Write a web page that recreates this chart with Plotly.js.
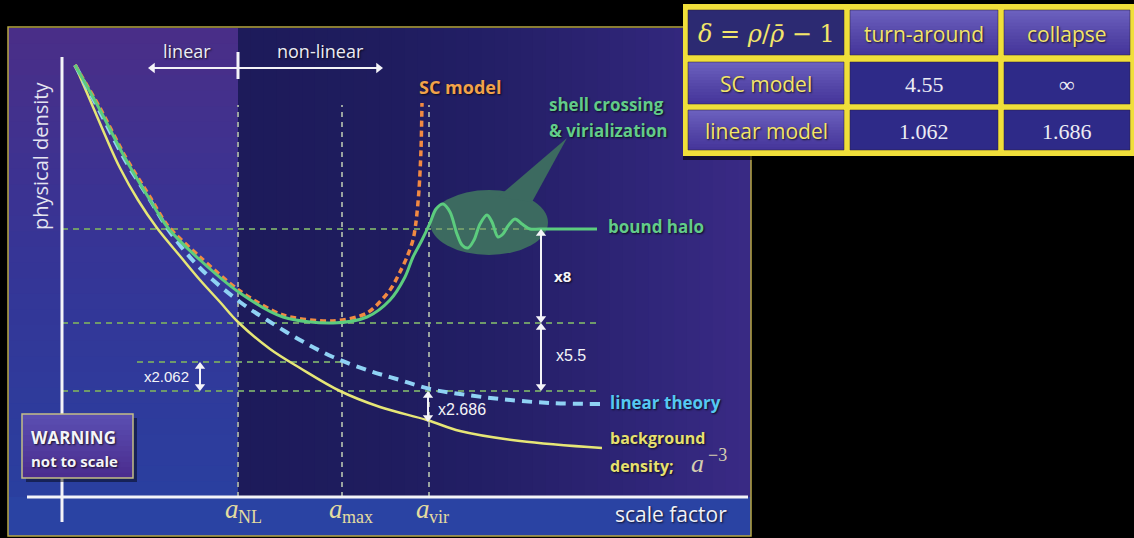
<!DOCTYPE html>
<html>
<head>
<meta charset="utf-8">
<script src="https://cdn.plot.ly/plotly-3.0.1.min.js"></script>
<style>
  html, body { margin: 0; padding: 0; background: #000; }
  #chart { width: 1134px; height: 538px; }
</style>
</head>
<body>
<div id="chart"></div>
<script>
// ---- Density histories (arbitrary units: x = scale factor, y = physical density) ----
// background density, a^-3
const bgX = [13, 28, 43, 58, 76, 95, 118, 138, 158, 176, 208, 238, 278, 318, 365, 398, 458, 540];
const bgY = [432, 397, 362, 329, 297, 269, 241, 217, 195, 175, 148, 129, 106, 90, 77, 66, 56, 49];

// linear theory
const linX = [13, 38, 63, 88, 108, 138, 178, 205, 238, 271, 308, 338, 368, 398, 438, 488, 538];
const linY = [432, 385, 337, 297, 265, 229, 195, 177, 157, 140, 126, 117, 108, 103, 98, 94, 93];

// spherical-collapse model (diverges at collapse)
const scX = [13, 38, 63, 88, 106, 138, 178, 221, 271, 305, 328, 338, 345, 351, 354, 357, 359, 360];
const scY = [432, 389, 341, 300, 271, 240, 206, 182, 176, 184, 207, 225, 240, 257, 275, 307, 347, 394];

// non-linear evolution: shell crossing, virialization, bound halo
const nlX = [13, 38, 63, 88, 106, 138, 178, 221, 271, 305, 328, 343, 351, 360, 368, 374, 381, 388, 395, 400,
             406, 412, 418, 425, 430, 436, 441, 446, 453, 460, 468, 478, 535];
const nlY = [432, 387, 339, 297, 269, 237, 204, 180, 174, 180, 197, 220, 240, 257, 274, 288, 293, 285, 263, 252,
             249, 257, 273, 282, 275, 260, 263, 271, 278, 273, 268, 268, 268];

// characteristic scale factors a_NL, a_max, a_vir
const epochSubs = ['NL', 'max', 'vir'];
const epochX = [176, 280, 367];

// density reference levels
const haloLevel = 268;      // virialized halo
const minLevel = 174;       // density at turn-around
const linAtMax = 135;       // linear theory at a_max
const linAtVir = 106;       // linear theory at a_vir
const bgAtVir = 75;         // background at a_vir

// density-contrast ratios
const ratioLabels = ['x8', 'x5.5', 'x2.062', 'x2.686'];

// overdensity table
const headerLabels = ['<i>δ</i> = <i>ρ</i>/<i>ρ̄</i> − 1', 'turn-around', 'collapse'];
const modelNames = ['SC model', 'linear model'];
const deltaTurnaround = ['4.55', '1.062'];
const deltaCollapse = ['∞', '1.686'];

// ---- layout helpers: canvas pixel position -> axis units ----
const X = px => px - 62;
const Y = py => 497 - py;

const HAND = '"Open Sans", Lato, sans-serif';
const SERIF = '"Liberation Serif", "DejaVu Serif", serif';
const MATH = '"DejaVu Serif", "Liberation Serif", serif';
const SANS = '"Liberation Sans", Arial, sans-serif';
const SHADOW = '1px 1px 2px rgba(0,0,0,0.75)';

function hex2rgb(h) { return [1, 3, 5].map(i => parseInt(h.substr(i, 2), 16)); }
function mix(stops, t) {
  for (let i = 0; i < stops.length - 1; i++) {
    const [t0, c0] = stops[i], [t1, c1] = stops[i + 1];
    if (t <= t1 || i === stops.length - 2) {
      const u = Math.max(0, Math.min(1, (t - t0) / (t1 - t0)));
      const a = hex2rgb(c0), b = hex2rgb(c1);
      return 'rgb(' + a.map((v, k) => Math.round(v + (b[k] - v) * u)).join(',') + ')';
    }
  }
}
function rect(x0, y0, x1, y1, fill, extra) {
  return Object.assign({
    type: 'rect', xref: 'x', yref: 'y', layer: 'below',
    x0: X(x0), x1: X(x1), y0: Y(y0), y1: Y(y1),
    fillcolor: fill, line: { width: 0 }
  }, extra || {});
}
function vgrad(x0, y0, x1, y1, stops, n) {
  for (let i = 0; i < n; i++) {
    const a = y0 + (y1 - y0) * i / n, b = y0 + (y1 - y0) * (i + 1) / n + (i < n - 1 ? 0.8 : 0);
    shapes.push(rect(x0, a, x1, b, mix(stops, (i + 0.5) / n)));
  }
}
function seg(x0, y0, x1, y1, color, width, dash) {
  return {
    type: 'line', xref: 'x', yref: 'y', layer: 'below',
    x0: x0, x1: x1, y0: y0, y1: y1,
    line: { color: color, width: width, dash: dash || 'solid' }
  };
}

const shapes = [];

// panel backgrounds
vgrad(8, 28, 238, 497, [[0, '#4a2e88'], [0.5, '#353596'], [1, '#2a3f9f']], 30);
const rightStops = [[0, '#1d1b5a'], [0.3, '#1f1c5e'], [0.5, '#231f66'], [0.7, '#2b2372'], [0.85, '#32277c'], [1, '#3a2a85']];
const NR = 40;
for (let i = 0; i < NR; i++) {
  const a = 238 + (751 - 238) * i / NR, b = 238 + (751 - 238) * (i + 1) / NR + 1;
  shapes.push(rect(a, 28, Math.min(b, 751), 497, mix(rightStops, (i + 0.5) / NR)));
}
shapes.push(rect(8, 497, 751, 536, '#2a43a3'));
shapes.push(rect(8, 27, 751, 536, 'rgba(0,0,0,0)', { line: { color: '#b8a844', width: 1.5 } }));

// speech bubble around the oscillations
shapes.push({
  type: 'circle', xref: 'x', yref: 'y', layer: 'below',
  x0: X(430), x1: X(548), y0: Y(190), y1: Y(255),
  fillcolor: '#3c6a60', line: { width: 0 }
});
shapes.push({
  type: 'path', xref: 'x', yref: 'y', layer: 'below',
  path: `M ${X(498)},${Y(197)} L ${X(567)},${Y(138)} L ${X(532)},${Y(202)} Z`,
  fillcolor: '#3c6a60', line: { width: 0 }
});

// reference levels (horizontal) and epochs (vertical)
const HCOL = '#6f9a6a', VCOL = '#9aa3a0', DASH = '6px,5px';
shapes.push(seg(0, haloLevel, X(540), haloLevel, HCOL, 2, DASH));
shapes.push(seg(0, minLevel, X(596), minLevel, HCOL, 2, DASH));
shapes.push(seg(X(137), linAtMax, epochX[1], linAtMax, HCOL, 2, DASH));
shapes.push(seg(0, linAtVir, X(600), linAtVir, HCOL, 2, DASH));
epochX.forEach(x => shapes.push(seg(x, 0, x, Y(105), VCOL, 2, '5px,5px')));

// axes
shapes.push(seg(0, Y(57), 0, Y(522), '#f4f4f8', 3));
shapes.push(seg(X(27), 0, X(748), 0, '#f4f4f8', 3));

// linear / non-linear divider tick
shapes.push(seg(epochX[0], Y(52), epochX[0], Y(79), '#f4f4f8', 3));

// warning box
shapes.push(rect(26, 418, 137, 482, 'rgba(0,0,0,0.45)'));
vgrad(22, 414, 133, 478, [[0, '#5b4fb3'], [1, '#4a2b8d']], 12);
shapes.push(rect(22, 414, 133, 478, 'rgba(0,0,0,0)', { line: { color: '#c4bf86', width: 1.5 } }));

// ---- overdensity table (cells built from the table arrays) ----
const colEdges = [[688, 844], [850, 998], [1004, 1130]];
const rowEdges = [[10, 55], [62, 104], [110, 150]];
const tableRows = [
  headerLabels,
  [modelNames[0], deltaTurnaround[0], deltaCollapse[0]],
  [modelNames[1], deltaTurnaround[1], deltaCollapse[1]]
];
const YELLOW = '#f3e56a';
const tableNotes = [];
shapes.push(rect(683, 4, 1134, 156, '#f0df3a'));
shapes.push(rect(683, 156, 1134, 160, 'rgba(0,0,0,0.6)'));
tableRows.forEach((row, r) => {
  row.forEach((txt, c) => {
    const [x0, x1] = colEdges[c], [y0, y1] = rowEdges[r];
    let font;
    if (r === 0 && c === 0) {
      shapes.push(rect(x0, y0, x1, y1, '#2c2a72'));
      font = { family: MATH, size: 24, color: YELLOW };
    } else if (r === 0 || c === 0) {
      vgrad(x0, y0, x1, y1, [[0, '#6c62c0'], [0.55, '#5547a8'], [1, '#45349a']], 14);
      font = { family: HAND, size: 21, color: YELLOW, shadow: SHADOW };
    } else {
      shapes.push(rect(x0, y0, x1, y1, '#2e2a88'));
      font = { family: SERIF, size: 22, color: '#ececf4' };
    }
    shapes.push(rect(x0, y0, x1, y1, 'rgba(0,0,0,0)', { line: { color: 'rgba(40,30,60,0.5)', width: 1 } }));
    tableNotes.push({
      x: X((x0 + x1) / 2), y: Y((y0 + y1) / 2 + 1), xref: 'x', yref: 'y', text: txt,
      showarrow: false, xanchor: 'center', yanchor: 'middle', font: font
    });
  });
});

// ---- traces ----
const WHITE = '#f4f4f8';
function dblArrowTrace(xs, ys, symbols) {
  return {
    x: xs, y: ys, mode: 'lines+markers', hoverinfo: 'skip', cliponaxis: false,
    line: { color: WHITE, width: 2 },
    marker: { symbol: symbols, size: 9, color: WHITE, line: { width: 0 } }
  };
}
const HEAD = 4.5;
const traces = [
  { x: bgX, y: bgY, mode: 'lines', line: { color: '#e6e676', width: 2.5, shape: 'spline' }, hoverinfo: 'skip' },
  { x: linX, y: linY, mode: 'lines', line: { color: '#8fd2f4', width: 4, dash: '10px,7px', shape: 'spline' }, hoverinfo: 'skip' },
  { x: scX, y: scY, mode: 'lines', line: { color: '#f28a42', width: 3.5, dash: '6px,4px', shape: 'spline', smoothing: 0.8 }, hoverinfo: 'skip' },
  { x: nlX, y: nlY, mode: 'lines', line: { color: '#5ccc7e', width: 3, shape: 'spline', smoothing: 0.9 }, hoverinfo: 'skip' },
  // ratio arrows between reference levels
  dblArrowTrace([X(200), X(200)], [linAtMax - HEAD, linAtVir + HEAD], ['triangle-up', 'triangle-down']),
  dblArrowTrace([X(541), X(541)], [haloLevel - HEAD, minLevel + HEAD], ['triangle-up', 'triangle-down']),
  dblArrowTrace([X(541), X(541)], [minLevel - HEAD, linAtVir + HEAD], ['triangle-up', 'triangle-down']),
  dblArrowTrace([epochX[2] - 1, epochX[2] - 1], [linAtVir - HEAD, bgAtVir + HEAD], ['triangle-up', 'triangle-down']),
  // linear / non-linear regimes
  dblArrowTrace([X(148) + HEAD, X(383) - HEAD], [Y(68), Y(68)], ['triangle-left', 'triangle-right'])
];

// ---- annotations ----
function label(text, px, py, font, xanchor, extra) {
  return Object.assign({
    x: X(px), y: Y(py), xref: 'x', yref: 'y', text: text, showarrow: false,
    xanchor: xanchor || 'center', yanchor: 'middle', font: font
  }, extra || {});
}
const hand = (size, color, bold) => ({ family: HAND, size: size, color: color, weight: bold ? 'bold' : 'normal', shadow: SHADOW });
const ital = (size, color) => ({ family: SERIF, size: size, color: color, style: 'italic' });

const annotations = [
  label('linear', 187, 51, hand(18, '#ececf4')),
  label('non-linear', 320, 51, hand(18, '#ececf4')),
  label('SC model', 460, 87, hand(18, '#f2a24a', true)),
  label('shell crossing', 547, 104, hand(17, '#62cc8a', true), 'left'),
  label('&amp; virialization', 547, 130, hand(17, '#62cc8a', true), 'left'),
  label('bound halo', 606, 226, hand(17, '#62cc8a', true), 'left'),
  label('linear theory', 608, 402, hand(17, '#55c8f2', true), 'left'),
  label('background', 608, 438, hand(16, '#e6e070', true), 'left'),
  label('density;', 608, 466, hand(16, '#e6e070', true), 'left'),
  label('a', 689, 463, ital(26, '#d6ceb0'), 'left'),
  label('−3', 706, 455, { family: SERIF, size: 18, color: '#d6ceb0' }, 'left'),
  label('WARNING', 29, 437, hand(17, WHITE, true), 'left'),
  label('not to scale', 29, 461, hand(15, WHITE, true), 'left'),
  label(ratioLabels[2], 191, 376, { family: SANS, size: 15, color: WHITE }, 'right'),
  label(ratioLabels[0], 552, 276, hand(15, WHITE, true), 'left'),
  label(ratioLabels[1], 554, 355, { family: SANS, size: 16, color: WHITE }, 'left'),
  label(ratioLabels[3], 436, 409, { family: SANS, size: 16, color: WHITE }, 'left'),
  label('physical density', 40, 156, { family: '"Open Sans", sans-serif', size: 20, color: '#e4e4f0' }, 'center', { textangle: -90 }),
  label('scale factor', 671, 514, hand(21, '#f0f0f6'))
];
epochSubs.forEach((s, i) => {
  annotations.push({
    x: epochX[i] + 3, y: Y(509), xref: 'x', yref: 'y', text: 'a', showarrow: false,
    xanchor: 'right', yanchor: 'middle', font: ital(27, '#e4dca0')
  });
  annotations.push({
    x: epochX[i] - 2, y: Y(517), xref: 'x', yref: 'y', text: s, showarrow: false,
    xanchor: 'left', yanchor: 'middle', font: { family: SERIF, size: 18, color: '#e4dca0' }
  });
});
tableNotes.forEach(a => annotations.push(a));

const layout = {
  width: 1134, height: 538,
  margin: { l: 0, r: 0, t: 0, b: 0 },
  paper_bgcolor: '#000000', plot_bgcolor: 'rgba(0,0,0,0)',
  showlegend: false,
  xaxis: { range: [X(0), X(1134)], visible: false, fixedrange: true },
  yaxis: { range: [Y(538), Y(0)], visible: false, fixedrange: true },
  shapes: shapes,
  annotations: annotations
};

Plotly.newPlot('chart', traces, layout, { displayModeBar: false, staticPlot: true });
</script>
</body>
</html>
